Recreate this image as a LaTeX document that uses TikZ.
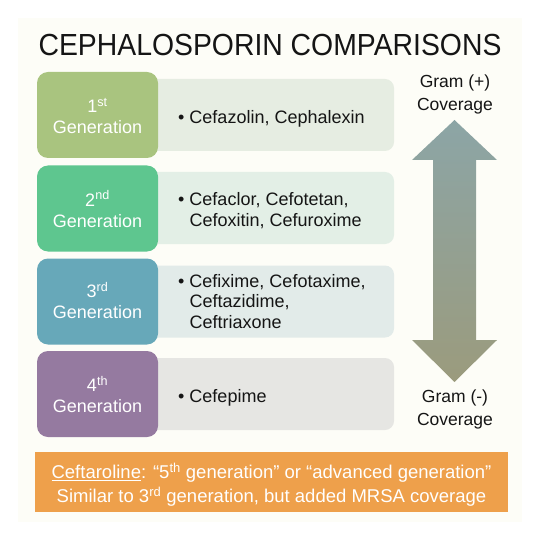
\documentclass[tikz,border=0pt]{standalone}
\usepackage{fontspec}
\setmainfont{Liberation Sans}
\definecolor{cream}{HTML}{FDFDF7}
\definecolor{genA}{HTML}{A9C47F}
\definecolor{genB}{HTML}{5EC68F}
\definecolor{genC}{HTML}{67A8B9}
\definecolor{genD}{HTML}{957AA0}
\definecolor{lightA}{HTML}{E6EDE2}
\definecolor{lightB}{HTML}{E3EFE6}
\definecolor{lightC}{HTML}{E2EBE9}
\definecolor{lightD}{HTML}{E6E6E3}
\definecolor{orangebox}{HTML}{EEA04B}
\definecolor{arrowtop}{HTML}{8CA5A6}
\definecolor{arrowbot}{HTML}{9B9B7D}
\definecolor{ink}{HTML}{151515}
\begin{document}
\begin{tikzpicture}[x=1bp,y=-1bp,
  genbox/.style={rounded corners=11bp, minimum width=121bp, minimum height=86bp,
    inner sep=0pt, text=white, align=center,
    font=\fontsize{18bp}{21bp}\selectfont},
  itembox/.style={rounded corners=9bp, minimum width=254bp, minimum height=72bp, inner sep=0pt},
  itemtext/.style={anchor=west, inner sep=0pt, align=left, text=ink,
    font=\fontsize{18bp}{20.5bp}\selectfont},
  gramtext/.style={inner sep=0pt, align=center, text=ink,
    font=\fontsize{17.5bp}{23bp}\selectfont},
  notebox/.style={minimum width=473bp, minimum height=60bp, inner sep=0pt}
]
\useasboundingbox (0,0) rectangle (558,535);
\fill[white] (0,0) rectangle (558,535);
\fill[cream] (18,18) rectangle (522,522);

\node[anchor=base, inner sep=0pt, text=ink] (title) at (270,56)
  {\fontsize{30.5bp}{34bp}\selectfont\scalebox{0.93}[1]{CEPHALOSPORIN COMPARISONS}};

% light item boxes
\node[itembox, fill=lightA] (lA) at (267,115) {};
\node[itembox, fill=lightB] (lB) at (267,208) {};
\node[itembox, fill=lightC] (lC) at (267,301.5) {};
\node[itembox, fill=lightD] (lD) at (267,394) {};

% generation boxes
\node[genbox, fill=genA] (gA) at (97.5,115) {};
\node[genbox, fill=genB] (gB) at (97.5,208.5) {};
\node[genbox, fill=genC] (gC) at (97.5,301.5) {};
\node[genbox, fill=genD] (gD) at (97.5,394) {};
\node[genbox, minimum width=0pt, minimum height=0pt] (tA) at (97.5,116) {1\textsuperscript{st}\\Generation};
\node[genbox, minimum width=0pt, minimum height=0pt] (tB) at (97.5,209) {2\textsuperscript{nd}\\Generation};
\node[genbox, minimum width=0pt, minimum height=0pt] (tC) at (97.5,300.5) {3\textsuperscript{rd}\\Generation};
\node[genbox, minimum width=0pt, minimum height=0pt] (tD) at (97.5,394.5) {4\textsuperscript{th}\\Generation};

% item texts
\node[itemtext] (iA) at (178,118.4) {•\ Cefazolin, Cephalexin};
\node[itemtext] (iB) at (178,210.5) {•\ Cefaclor, Cefotetan,\\\hphantom{•\ }Cefoxitin, Cefuroxime};
\node[itemtext] (iC) at (178,301.5) {•\ Cefixime, Cefotaxime,\\\hphantom{•\ }Ceftazidime,\\\hphantom{•\ }Ceftriaxone};
\node[itemtext] (iD) at (178,397.4) {•\ Cefepime};

% double arrow
\shade[top color=arrowtop, bottom color=arrowbot]
  (433,160) -- (412,160) -- (454.5,120) -- (497,160) -- (476,160) --
  (476,340) -- (497,340) -- (454.5,382) -- (412,340) -- (433,340) -- cycle;

\node[gramtext] (gplus) at (455,94.5) {Gram (+)\\Coverage};
\node[gramtext] (gminus) at (455,409.5) {Gram (-)\\Coverage};

% note box
\node[notebox, fill=orangebox] (note) at (271.5,482) {};
\node[inner sep=0pt, align=center, text=white,
  font=\fontsize{18.5bp}{24bp}\selectfont] (notetext) at (271.5,485)
  {\underline{Ceftaroline}: “5\textsuperscript{th} generation” or “advanced generation”\\
   Similar to 3\textsuperscript{rd} generation, but added MRSA coverage};
\end{tikzpicture}
\end{document}
